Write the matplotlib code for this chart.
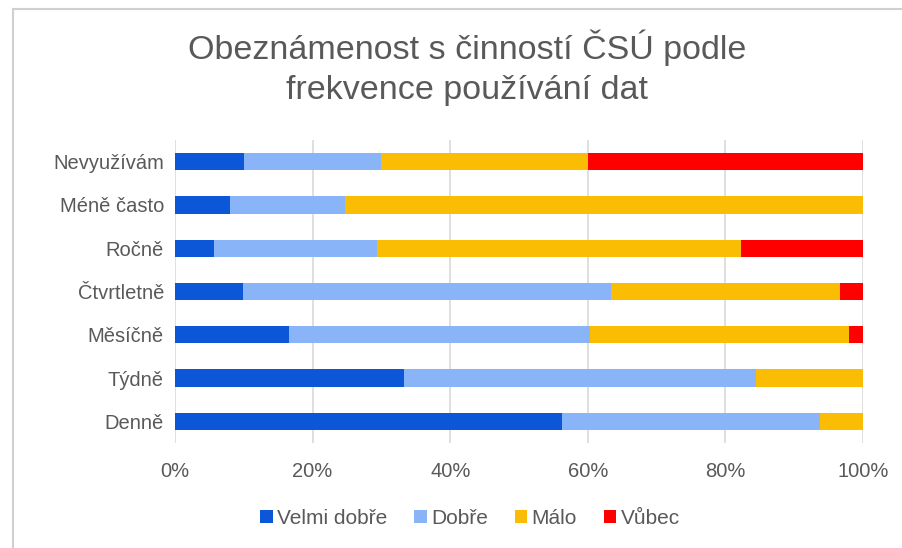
import matplotlib.pyplot as plt
from matplotlib.patches import Patch
from matplotlib.lines import Line2D
from matplotlib.ticker import PercentFormatter

plt.rcParams['font.family'] = ['Liberation Sans', 'DejaVu Sans']

# data (shares in %), top to bottom as in the chart
categories = ["Nevyužívám", "Méně často", "Ročně", "Čtvrtletně", "Měsíčně", "Týdně", "Denně"]
velmi_dobre = [10.0, 8.0, 5.6, 9.9, 16.5, 33.3, 56.25]
dobre = [20.0, 16.7, 23.7, 53.4, 43.8, 51.2, 37.5]
malo = [30.0, 75.3, 53.0, 33.4, 37.6, 15.5, 6.25]
vubec = [40.0, 0.0, 17.7, 3.3, 2.1, 0.0, 0.0]

series = ["Velmi dobře", "Dobře", "Málo", "Vůbec"]
colors = ["#0b57d8", "#8ab4f8", "#fbbc04", "#ff0000"]
text_color = "#595959"

fig = plt.figure(figsize=(9.03, 5.48), dpi=100)
ax = fig.add_axes([175 / 903, 1 - 443 / 548, 688 / 903, 303 / 548])

y = list(range(len(categories)))
left = [0.0] * len(categories)
for vals, col in zip([velmi_dobre, dobre, malo, vubec], colors):
    ax.barh(y, vals, left=left, height=0.4, color=col, zorder=3)
    left = [l + v for l, v in zip(left, vals)]

ax.set_xlim(0, 100)
ax.set_ylim(-0.5, len(categories) - 0.5)
ax.invert_yaxis()
ax.set_yticks(y)
ax.set_yticklabels(categories)
ax.set_xticks([0, 20, 40, 60, 80, 100])
ax.xaxis.set_major_formatter(PercentFormatter(decimals=0))
ax.tick_params(axis='both', length=0, labelsize=14.5, labelcolor=text_color)
ax.tick_params(axis='y', pad=8)
ax.tick_params(axis='x', pad=14)
ax.grid(axis='x', color="#d9d9d9", linewidth=1.2, zorder=0)
for s in ax.spines.values():
    s.set_visible(False)

fig.text(467 / 903, 1 - 48 / 548, "Obeznámenost s činností ČSÚ podle",
         ha='center', va='center', fontsize=24.5, color=text_color)
fig.text(467 / 903, 1 - 91 / 548, "frekvence používání dat",
         ha='center', va='center', fontsize=24.5, color=text_color)

handles = [Patch(facecolor=c, edgecolor='none') for c in colors]
fig.legend(handles, series, loc='center', bbox_to_anchor=(470 / 903, 1 - 518 / 548),
           ncol=4, frameon=False, fontsize=15, labelcolor=text_color,
           handlelength=0.6, handleheight=0.6, handletextpad=0.2, columnspacing=1.3)

# light frame of the chart area (top and left edges)
fig.add_artist(Line2D([13 / 903, 1], [1 - 9 / 548, 1 - 9 / 548], color="#d0d0d0", linewidth=1.5))
fig.add_artist(Line2D([13 / 903, 13 / 903], [0, 1 - 9 / 548], color="#d0d0d0", linewidth=1.5))

fig.savefig("out.png", dpi=100)
